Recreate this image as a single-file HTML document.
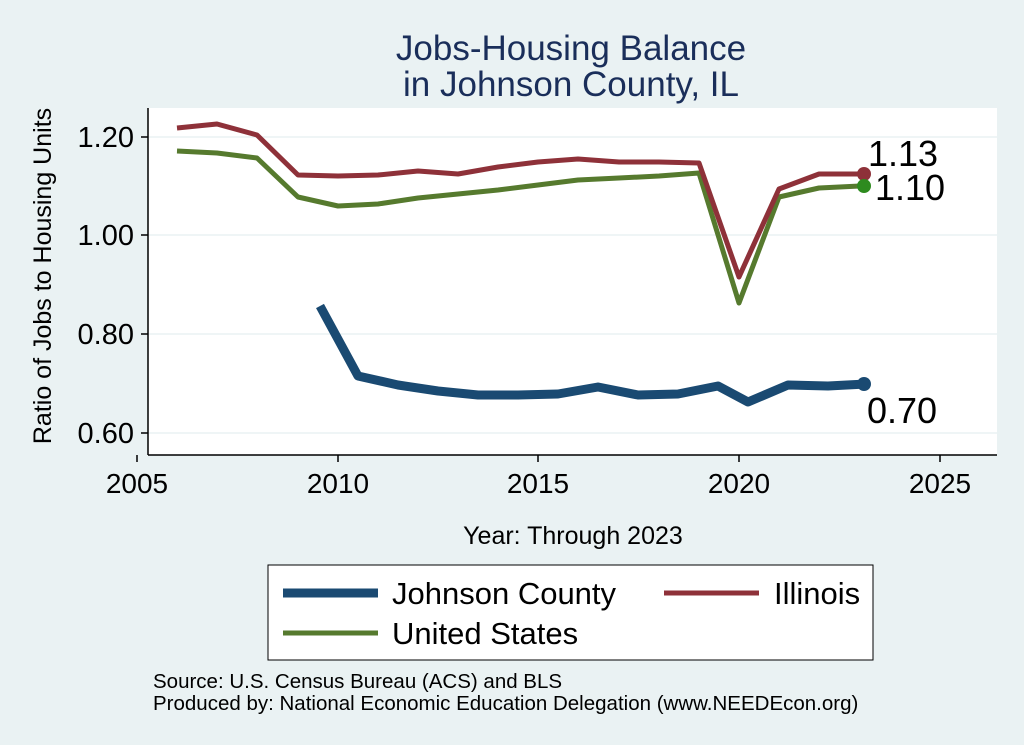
<!DOCTYPE html>
<html><head><style>body{margin:0;background:#eaf2f3}svg{display:block}text{font-family:"Liberation Sans",Arial,sans-serif}</style></head>
<body>
<svg width="1024" height="745" viewBox="0 0 1024 745">
<rect width="1024" height="745" fill="#eaf2f3"/>
<text x="571" y="60" font-size="35" fill="#1a2e5a" text-anchor="middle">Jobs-Housing Balance</text>
<text x="571" y="96" font-size="35" fill="#1a2e5a" text-anchor="middle">in Johnson County, IL</text>
<rect x="148" y="108" width="849" height="347" fill="#fff"/>
<g stroke="#eaf2f3" stroke-width="1.5">
<line x1="148" y1="137" x2="997" y2="137"/><line x1="148" y1="235" x2="997" y2="235"/><line x1="148" y1="334" x2="997" y2="334"/><line x1="148" y1="433" x2="997" y2="433"/>
</g>
<g stroke="#000" stroke-width="1.5">
<line x1="148" y1="108" x2="148" y2="455"/><line x1="148" y1="455" x2="997" y2="455"/>
<line x1="141" y1="137" x2="148" y2="137"/><line x1="141" y1="235" x2="148" y2="235"/><line x1="141" y1="334" x2="148" y2="334"/><line x1="141" y1="433" x2="148" y2="433"/>
<line x1="137" y1="455" x2="137" y2="462"/><line x1="338" y1="455" x2="338" y2="462"/><line x1="538" y1="455" x2="538" y2="462"/><line x1="739" y1="455" x2="739" y2="462"/><line x1="940" y1="455" x2="940" y2="462"/>
</g>
<g font-size="29" text-anchor="end"><text x="134" y="147">1.20</text><text x="134" y="245">1.00</text><text x="134" y="344">0.80</text><text x="134" y="443">0.60</text></g>
<g font-size="28" text-anchor="middle"><text x="137" y="493">2005</text><text x="338" y="493">2010</text><text x="538" y="493">2015</text><text x="739" y="493">2020</text><text x="940" y="493">2025</text></g>
<text transform="translate(51,276) rotate(-90)" font-size="25" text-anchor="middle">Ratio of Jobs to Housing Units</text>
<text x="573" y="544" font-size="25" text-anchor="middle">Year: Through 2023</text>
<g fill="none" stroke-linejoin="round">
<polyline stroke="#567a2e" stroke-width="5" points="177,151 217,153 257,158 298,197 338,206 378,204 418,198 458,194 498,190 538,185 578,180 619,178 659,176 699,173 739,303 779,197 819,188 860,186"/>
<polyline stroke="#8e3139" stroke-width="5" points="177,128 217,124 257,135 298,175 338,176 378,175 418,171 458,174 498,167 538,162 578,159 619,162 659,162 699,163 739,277 779,189 819,174 860,174"/>
<polyline stroke="#1a4a72" stroke-width="9" points="320,306 358,376 398,385 438,391 478,395 518,395 558,394 598,387 638,395 678,394 718,386 748,402 788,385 828,386 866,384"/>
</g>
<circle cx="864" cy="174" r="7" fill="#8e3139"/>
<circle cx="864" cy="186" r="7" fill="#2e8b1f"/>
<circle cx="864" cy="384" r="7" fill="#1a4a72"/>
<g font-size="36"><text x="868" y="166">1.13</text><text x="875" y="200">1.10</text><text x="867" y="423">0.70</text></g>
<rect x="268" y="565" width="605" height="95" fill="#fff" stroke="#000" stroke-width="1"/>
<line x1="283" y1="593" x2="378" y2="593" stroke="#1a4a72" stroke-width="9"/>
<line x1="664" y1="593" x2="759" y2="593" stroke="#8e3139" stroke-width="5"/>
<line x1="283" y1="633" x2="378" y2="633" stroke="#567a2e" stroke-width="5"/>
<g font-size="31"><text x="392" y="604">Johnson County</text><text x="774" y="604">Illinois</text><text x="392" y="644">United States</text></g>
<g font-size="20.5"><text x="153" y="688">Source: U.S. Census Bureau (ACS) and BLS</text><text x="153" y="710">Produced by: National Economic Education Delegation (www.NEEDEcon.org)</text></g>
</svg>
</body></html>
